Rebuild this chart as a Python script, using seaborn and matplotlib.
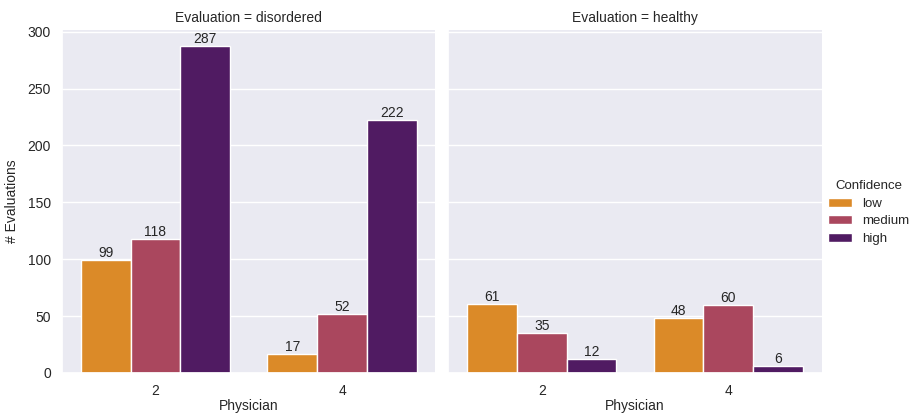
import matplotlib
matplotlib.use("Agg")
import matplotlib.pyplot as plt
import pandas as pd
import seaborn as sns

# Evaluation counts per physician, split by evaluation outcome and confidence
physicians = [2, 2, 2, 4, 4, 4, 2, 2, 2, 4, 4, 4]
evaluations = ["disordered"] * 6 + ["healthy"] * 6
confidence = ["low", "medium", "high"] * 4
counts = [99, 118, 287, 17, 52, 222, 61, 35, 12, 48, 60, 6]

df = pd.DataFrame({
    "Physician": physicians,
    "Evaluation": evaluations,
    "Confidence": confidence,
    "# Evaluations": counts,
})

sns.set_theme(style="darkgrid")
fs = 10
plt.rcParams.update({
    "font.family": ["Liberation Sans", "DejaVu Sans"],
    "font.size": fs,
    "axes.labelsize": fs,
    "axes.titlesize": fs,
    "xtick.labelsize": fs,
    "ytick.labelsize": fs,
    "legend.fontsize": 9.5,
    "legend.title_fontsize": 9.5,
    "legend.labelspacing": 0.4,
    "legend.handlelength": 1.8,
    "text.color": "#262626",
    "axes.labelcolor": "#262626",
    "xtick.color": "#262626",
    "ytick.color": "#262626",
})

g = sns.catplot(
    data=df, kind="bar", x="Physician", y="# Evaluations",
    hue="Confidence", col="Evaluation", palette="inferno_r",
    hue_order=["low", "medium", "high"], errorbar=None,
    height=4, aspect=1,
)
g.figure.set_size_inches(9.14, 4.13)
g.figure.subplots_adjust(left=0.068, right=0.899, top=0.927, bottom=0.097, wspace=0.035)
g._legend.set_bbox_to_anchor((1.008, 0.485))

for ax in g.axes.flat:
    ax.tick_params(pad=2)
    ax.xaxis.labelpad = 1
    ax.yaxis.labelpad = 6
    for cont in ax.containers:
        ax.bar_label(cont, fontsize=fs, padding=0)

g.figure.savefig("out.png", dpi=100)
